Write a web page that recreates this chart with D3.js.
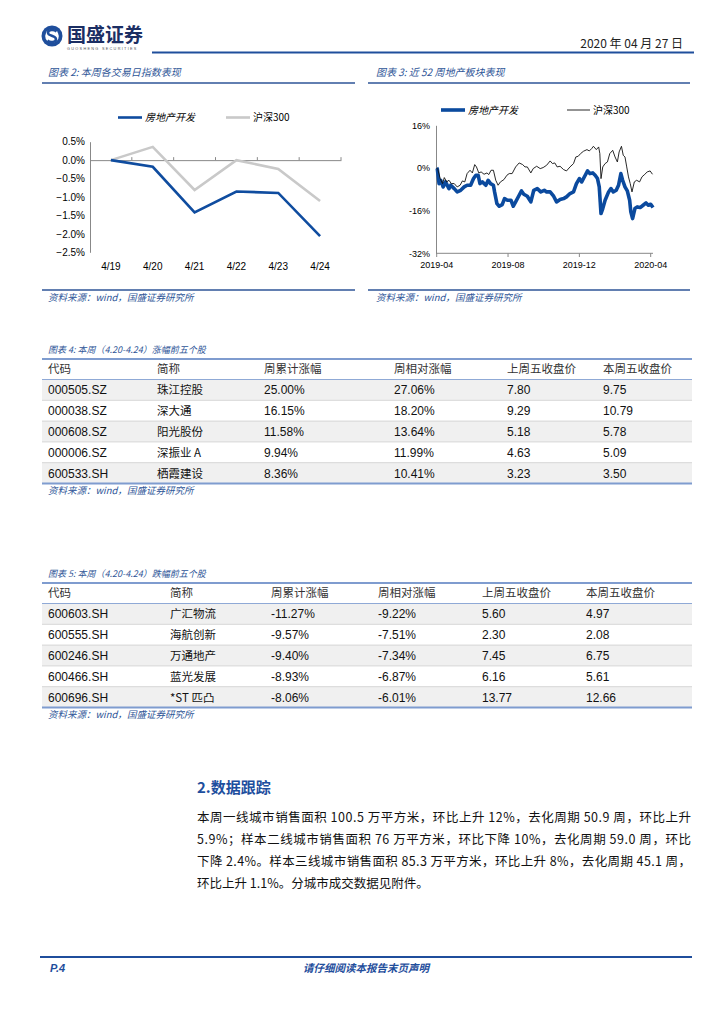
<!DOCTYPE html>
<html><head><meta charset="utf-8">
<script src="https://cdn.jsdelivr.net/npm/d3@7"></script>
<style>
html,body{margin:0;padding:0;background:#fff;}
svg{display:block;}
</style></head>
<body>
<svg id="page" width="724" height="1024"></svg>
<script>
// ---------- DATA ----------
const dailyDays = ['4/19','4/20','4/21','4/22','4/23','4/24'];
const dailyRE = [0, -0.18, -1.42, -0.85, -0.89, -2.06];
const dailyHS300 = [0, 0.36, -0.81, 0.0, -0.24, -1.11];
const dailyTicks = [0.5, 0, -0.5, -1, -1.5, -2, -2.5];

const reDates = ['2019-04-01','2019-04-02','2019-04-05','2019-04-08','2019-04-12','2019-04-16','2019-04-22','2019-04-25','2019-05-01','2019-05-06','2019-05-12','2019-05-18','2019-05-23','2019-05-29','2019-06-03','2019-06-07','2019-06-11','2019-06-14','2019-06-18','2019-06-24','2019-06-28','2019-07-02','2019-07-07','2019-07-09','2019-07-13','2019-07-17','2019-07-22','2019-07-26','2019-07-31','2019-08-06','2019-08-10','2019-08-14','2019-08-20','2019-08-24','2019-08-28','2019-09-03','2019-09-09','2019-09-14','2019-09-20','2019-09-26','2019-10-02','2019-10-06','2019-10-12','2019-10-18','2019-10-23','2019-10-29','2019-11-04','2019-11-09','2019-11-15','2019-11-21','2019-11-26','2019-12-01','2019-12-05','2019-12-11','2019-12-15','2019-12-19','2019-12-24','2019-12-28','2020-01-01','2020-01-04','2020-01-07','2020-01-10','2020-01-14','2020-01-20','2020-01-24','2020-01-28','2020-02-02','2020-02-06','2020-02-10','2020-02-13','2020-02-17','2020-02-21','2020-02-25','2020-02-27','2020-03-01','2020-03-05','2020-03-09','2020-03-14','2020-03-19','2020-03-24','2020-03-28','2020-04-01','2020-04-05'];
const reValues = [0,-0.24,-5.86,-4.61,-7.11,-5.23,-7.73,-6.48,-7.73,-8.98,-8.36,-7.11,-6.48,-6.48,-3.98,-2.74,-2.74,-5.86,-5.23,-6.48,-4.61,-5.86,-6.48,-8.98,-13.35,-14.35,-13.73,-11.48,-12.10,-12.10,-14.35,-12.73,-10.23,-8.61,-9.85,-10.60,-12.73,-8.36,-7.73,-8.98,-8.36,-8.98,-8.98,-10.60,-12.73,-11.85,-11.48,-10.85,-9.60,-8.98,-5.86,-3.98,-5.23,-2.74,-1.11,-2.11,-1.86,-2.74,-3.98,-7.11,-17.10,-15.22,-12.10,-8.98,-7.73,-8.98,-8.36,-6.48,-2.11,-4.61,-7.11,-8.61,-12.10,-16.48,-18.97,-15.22,-14.60,-14.85,-13.98,-13.10,-13.98,-13.60,-14.85];

const hsDates = ['2019-04-01','2019-04-03','2019-04-07','2019-04-11','2019-04-14','2019-04-18','2019-04-22','2019-04-26','2019-05-01','2019-05-06','2019-05-11','2019-05-15','2019-05-19','2019-05-23','2019-05-28','2019-06-01','2019-06-05','2019-06-08','2019-06-12','2019-06-16','2019-06-21','2019-06-26','2019-06-29','2019-07-03','2019-07-07','2019-07-11','2019-07-15','2019-07-19','2019-07-25','2019-07-30','2019-08-03','2019-08-08','2019-08-14','2019-08-20','2019-08-26','2019-08-30','2019-09-03','2019-09-09','2019-09-13','2019-09-19','2019-09-25','2019-09-30','2019-10-06','2019-10-12','2019-10-16','2019-10-20','2019-10-24','2019-10-29','2019-11-04','2019-11-09','2019-11-15','2019-11-21','2019-11-25','2019-11-29','2019-12-03','2019-12-08','2019-12-14','2019-12-18','2019-12-22','2019-12-25','2019-12-30','2020-01-03','2020-01-05','2020-01-07','2020-01-10','2020-01-14','2020-01-18','2020-01-22','2020-01-27','2020-01-31','2020-02-04','2020-02-07','2020-02-11','2020-02-14','2020-02-17','2020-02-20','2020-02-23','2020-02-26','2020-02-29','2020-03-04','2020-03-08','2020-03-13','2020-03-17','2020-03-22','2020-03-26','2020-03-31','2020-04-04'];
const hsValues = [0,-0.61,-3.98,-5.86,-3.61,-5.23,-4.61,-5.86,-5.86,-7.11,-6.48,-4.86,-5.23,-2.11,-0.86,-1.86,1.26,0.39,-1.86,-1.49,-2.36,-1.86,-2.49,-0.86,-0.86,-4.61,-6.48,-5.23,-4.36,-2.74,-2.11,-2.11,0.39,1.89,1.26,0.39,0.39,-1.86,-0.24,0.64,-0.24,0.14,1.01,2.63,1.64,1.89,0.39,0.64,-0.61,-1.11,0.39,1.64,4.13,4.38,5.38,6.26,6.88,6.38,7.26,8.13,6.88,7.88,5.38,-4.0,0.39,1.64,2.26,5.38,6.63,4.13,2.26,6.01,8.13,4.76,4.13,0.39,-3.36,-5.86,-8.98,-5.23,-4.61,-5.23,-3.36,-2.36,-1.49,-1.11,-2.36];
const weeklyTicks = [16, 0, -16, -32];
const weeklyTickLabels = ['2019-04','2019-08','2019-12','2020-04'];

const tableHeader = ['代码','简称','周累计涨幅','周相对涨幅','上周五收盘价','本周五收盘价'];
const gainCodes = ['000505.SZ','000038.SZ','000608.SZ','000006.SZ','600533.SH'];
const gainNames = ['珠江控股','深大通','阳光股份','深振业 A','栖霞建设'];
const gainWeek = ['25.00%','16.15%','11.58%','9.94%','8.36%'];
const gainRel = ['27.06%','18.20%','13.64%','11.99%','10.41%'];
const gainPrev = ['7.80','9.29','5.18','4.63','3.23'];
const gainCur = ['9.75','10.79','5.78','5.09','3.50'];

const lossCodes = ['600603.SH','600555.SH','600246.SH','600466.SH','600696.SH'];
const lossNames = ['广汇物流','海航创新','万通地产','蓝光发展','*ST 匹凸'];
const lossWeek = ['-11.27%','-9.57%','-9.40%','-8.93%','-8.06%'];
const lossRel = ['-9.22%','-7.51%','-7.34%','-6.87%','-6.01%'];
const lossPrev = ['5.60','2.30','7.45','6.16','13.77'];
const lossCur = ['4.97','2.08','6.75','5.61','12.66'];

const paraLines = [
  '本周一线城市销售面积 100.5 万平方米，环比上升 12%，去化周期 50.9 周，环比上升',
  '5.9%；样本二线城市销售面积 76 万平方米，环比下降 10%，去化周期 59.0 周，环比',
  '下降 2.4%。样本三线城市销售面积 85.3 万平方米，环比上升 8%，去化周期 45.1 周，',
  '环比上升 1.1%。分城市成交数据见附件。'
];

// ---------- STYLE ----------
const BLUE = '#1f4e9c';
const TITLE = '#2e5597';
const CJK = "'Noto Sans CJK SC','Noto Sans',sans-serif";
const LAT = "'Liberation Sans',Arial,sans-serif";
const svg = d3.select('#page');
svg.append('rect').attr('width',724).attr('height',1024).attr('fill','#fff');

// ---------- HEADER ----------
const logo = svg.append('g');
logo.append('circle').attr('cx',52).attr('cy',36).attr('r',10.5).attr('fill',BLUE);
logo.append('circle').attr('cx',52).attr('cy',36).attr('r',6.8).attr('fill','#fff');
logo.append('path').attr('d','M56.5,31.5 C54,29 48,29.5 48,33 C48,36 56,35.5 56,39 C56,42.5 50,43 47.5,40.5')
  .attr('fill','none').attr('stroke',BLUE).attr('stroke-width',2.5);
svg.append('text').attr('x',67).attr('y',42).attr('font-family',CJK).attr('font-weight','bold')
  .attr('font-size',19).attr('fill','#1b2e63').text('国盛证券');
svg.append('text').attr('x',67).attr('y',49.5).attr('font-family',LAT).attr('font-size',3.8)
  .attr('letter-spacing',1.3).attr('fill','#555').text('GUOSHENG SECURITIES');
svg.append('text').attr('x',683).attr('y',48).attr('text-anchor','end').attr('font-family',CJK)
  .attr('font-size',12).attr('fill','#222').text('2020 年 04 月 27 日');
svg.append('line').attr('x1',152).attr('x2',694).attr('y1',52.5).attr('y2',52.5)
  .attr('stroke',BLUE).attr('stroke-width',2);

function chartFrame(x1,x2,title,titleX){
  svg.append('text').attr('x',titleX).attr('y',76).attr('font-family',CJK).attr('font-style','italic')
    .attr('font-size',10).attr('fill',TITLE).text(title);
  svg.append('line').attr('x1',x1).attr('x2',x2).attr('y1',83).attr('y2',83).attr('stroke',TITLE).attr('stroke-width',1.5);
  svg.append('line').attr('x1',x1).attr('x2',x2).attr('y1',290).attr('y2',290).attr('stroke',TITLE).attr('stroke-width',1.5);
  svg.append('text').attr('x',titleX).attr('y',300.5).attr('font-family',CJK).attr('font-style','italic')
    .attr('font-size',9.5).attr('fill',TITLE).text('资料来源：wind，国盛证券研究所');
}
chartFrame(42,355,'图表 2:  本周各交易日指数表现',48);
chartFrame(368,690,'图表 3:  近 52 周地产板块表现',376);

// ---------- CHART 2 ----------
const x2 = d3.scaleBand().domain(dailyDays).range([90,341]);
const y2 = d3.scaleLinear().domain([-2.5,0.5]).range([252.3,141.7]);
const g2 = svg.append('g');
const yAx2 = g2.append('g').attr('transform','translate(90,0)')
  .call(d3.axisLeft(y2).tickValues(dailyTicks).tickSize(0).tickPadding(5).tickFormat(d=>d3.format('.1f')(d)+'%'));
yAx2.select('.domain').attr('stroke','#888');
yAx2.selectAll('text').attr('font-family',LAT).attr('font-size',10).attr('fill','#000');
const xAx2 = g2.append('g').attr('transform',`translate(0,${y2(0)})`)
  .call(d3.axisBottom(x2).tickSize(0).tickFormat(''));
xAx2.select('.domain').attr('stroke','#888');
g2.selectAll('.xt2').data(dailyDays).enter().append('line')
  .attr('x1',d=>x2(d)+x2.bandwidth()).attr('x2',d=>x2(d)+x2.bandwidth())
  .attr('y1',y2(0)).attr('y2',y2(0)-3).attr('stroke','#888');
g2.selectAll('.xl2').data(dailyDays).enter().append('text')
  .attr('x',d=>x2(d)+x2.bandwidth()/2).attr('y',270).attr('text-anchor','middle')
  .attr('font-family',LAT).attr('font-size',10).text(d=>d);
const line2 = d3.line().x((d,i)=>x2(dailyDays[i])+x2.bandwidth()/2).y(d=>y2(d));
g2.append('path').datum(dailyHS300).attr('d',line2).attr('fill','none').attr('stroke','#c9c9c9').attr('stroke-width',2.6);
g2.append('path').datum(dailyRE).attr('d',line2).attr('fill','none').attr('stroke','#0f4c9f').attr('stroke-width',2.6);
// legend
g2.append('line').attr('x1',118).attr('x2',142).attr('y1',117.5).attr('y2',117.5).attr('stroke','#0f4c9f').attr('stroke-width',2.6);
g2.append('text').attr('x',145).attr('y',121).attr('font-family',CJK).attr('font-style','italic').attr('font-size',10).text('房地产开发');
g2.append('line').attr('x1',226).attr('x2',250).attr('y1',117.5).attr('y2',117.5).attr('stroke','#c9c9c9').attr('stroke-width',2.6);
g2.append('text').attr('x',253).attr('y',121).attr('font-family',CJK).attr('font-size',10).text('沪深300');

// ---------- CHART 3 ----------
const parse = d3.timeParse('%Y-%m-%d');
const x3 = d3.scaleTime().domain([parse('2019-04-01'),parse('2020-04-01')]).range([436.7,650.7]);
const y3 = d3.scaleLinear().domain([-32,16]).range([253.3,125.3]);
const g3 = svg.append('g');
const yAx3 = g3.append('g').attr('transform','translate(436,0)')
  .call(d3.axisLeft(y3).tickValues(weeklyTicks).tickSize(0).tickPadding(6).tickFormat(d=>d+'%'));
yAx3.select('.domain').attr('stroke','#888');
yAx3.selectAll('text').attr('font-family',LAT).attr('font-size',9).attr('fill','#000');
g3.append('line').attr('x1',436).attr('x2',653).attr('y1',253.3).attr('y2',253.3).attr('stroke','#888');
const tickDates = weeklyTickLabels.map(s=>parse(s+'-01'));
g3.selectAll('.xt3').data(tickDates).enter().append('line')
  .attr('x1',d=>x3(d)).attr('x2',d=>x3(d)).attr('y1',253.3).attr('y2',257).attr('stroke','#888');
g3.selectAll('.xl3').data(weeklyTickLabels).enter().append('text')
  .attr('x',(d,i)=>x3(tickDates[i])).attr('y',268).attr('text-anchor','middle')
  .attr('font-family',LAT).attr('font-size',9).text(d=>d);
const line3 = d3.line().x(d=>x3(d[0])).y(d=>y3(d[1]));
const reSeries = reDates.map((d,i)=>[parse(d),reValues[i]]);
const hsSeries = hsDates.map((d,i)=>[parse(d),hsValues[i]]);
g3.append('path').datum(reSeries).attr('d',line3).attr('fill','none').attr('stroke','#0b4a9e').attr('stroke-width',3.6).attr('stroke-linejoin','round');
g3.append('path').datum(hsSeries).attr('d',line3).attr('fill','none').attr('stroke','#111').attr('stroke-width',0.9);
g3.append('line').attr('x1',441).attr('x2',465).attr('y1',110).attr('y2',110).attr('stroke','#0b4a9e').attr('stroke-width',3.6);
g3.append('text').attr('x',468).attr('y',113.5).attr('font-family',CJK).attr('font-style','italic').attr('font-size',10).text('房地产开发');
g3.append('line').attr('x1',567).attr('x2',590).attr('y1',110).attr('y2',110).attr('stroke','#111').attr('stroke-width',0.9);
g3.append('text').attr('x',593).attr('y',113.5).attr('font-family',CJK).attr('font-size',10).text('沪深300');

// ---------- TABLES ----------
function drawTable(top, title, cols, colX){
  const rowH = 20.8, headH = 20.5;
  const g = svg.append('g');
  g.append('text').attr('x',48).attr('y',top-6.5).attr('font-family',CJK).attr('font-style','italic')
    .attr('font-size',9).attr('fill',TITLE).text(title);
  const rows = cols[0].map((_,i)=>cols.map(c=>c[i]));
  g.selectAll('.bg').data(rows).enter().append('rect')
    .attr('x',42).attr('width',650).attr('y',(d,i)=>top+headH+i*rowH).attr('height',rowH)
    .attr('fill',(d,i)=>i%2===0?'#f0f0f0':'#ffffff');
  g.selectAll('.sep').data(rows).enter().append('line')
    .attr('x1',42).attr('x2',692).attr('y1',(d,i)=>top+headH+i*rowH).attr('y2',(d,i)=>top+headH+i*rowH)
    .attr('stroke',(d,i)=>i===0?'#8fa9d6':'#d6d6d6').attr('stroke-width',1);
  g.append('line').attr('x1',42).attr('x2',692).attr('y1',top).attr('y2',top).attr('stroke','#7f9ccf').attr('stroke-width',2);
  const bottom = top+headH+rows.length*rowH;
  g.append('line').attr('x1',42).attr('x2',692).attr('y1',bottom).attr('y2',bottom).attr('stroke','#7f9ccf').attr('stroke-width',2);
  g.selectAll('.hd').data(tableHeader).enter().append('text')
    .attr('x',(d,i)=>colX[i]).attr('y',top+headH/2+4).attr('font-family',CJK).attr('font-size',11.5)
    .attr('fill','#333').text(d=>d);
  rows.forEach((r,ri)=>{
    g.selectAll('.c'+ri).data(r).enter().append('text')
      .attr('x',(d,i)=>colX[i]).attr('y',top+headH+ri*rowH+rowH/2+4.5)
      .attr('font-family',(d,i)=>i===1?CJK:LAT).attr('font-size',(d,i)=>i===1?11.5:12)
      .attr('fill','#111').text(d=>d);
  });
  g.append('text').attr('x',48).attr('y',bottom+10.5).attr('font-family',CJK).attr('font-style','italic')
    .attr('font-size',9.5).attr('fill',TITLE).text('资料来源：wind，国盛证券研究所');
}
drawTable(359,'图表 4:  本周（4.20-4.24）涨幅前五个股',
  [gainCodes,gainNames,gainWeek,gainRel,gainPrev,gainCur],[48,157,264,394,507,603]);
drawTable(583,'图表 5:  本周（4.20-4.24）跌幅前五个股',
  [lossCodes,lossNames,lossWeek,lossRel,lossPrev,lossCur],[48,170,271,378,482,586]);

// ---------- SECTION TEXT ----------
svg.append('text').attr('x',197).attr('y',793).attr('font-family',CJK).attr('font-weight','bold')
  .attr('font-size',15).attr('fill','#1d4e9e').text('2.数据跟踪');
svg.selectAll('.para').data(paraLines).enter().append('text')
  .attr('x',197).attr('y',(d,i)=>822+i*22).attr('font-family',CJK).attr('font-size',12.5).attr('fill','#111')
  .each(function(d,i){ if(i<3){ d3.select(this).attr('textLength',494).attr('lengthAdjust','spacing'); } })
  .text(d=>d);

// ---------- FOOTER ----------
svg.append('line').attr('x1',40).attr('x2',692).attr('y1',957).attr('y2',957).attr('stroke',BLUE).attr('stroke-width',2);
svg.append('text').attr('x',50).attr('y',972).attr('font-family',LAT).attr('font-weight','bold').attr('font-style','italic')
  .attr('font-size',11).attr('fill',BLUE).text('P.4');
svg.append('text').attr('x',366).attr('y',972).attr('text-anchor','middle').attr('font-family',CJK).attr('font-weight','bold')
  .attr('font-style','italic').attr('font-size',10.5).attr('fill',BLUE).text('请仔细阅读本报告末页声明');
</script>
</body></html>
